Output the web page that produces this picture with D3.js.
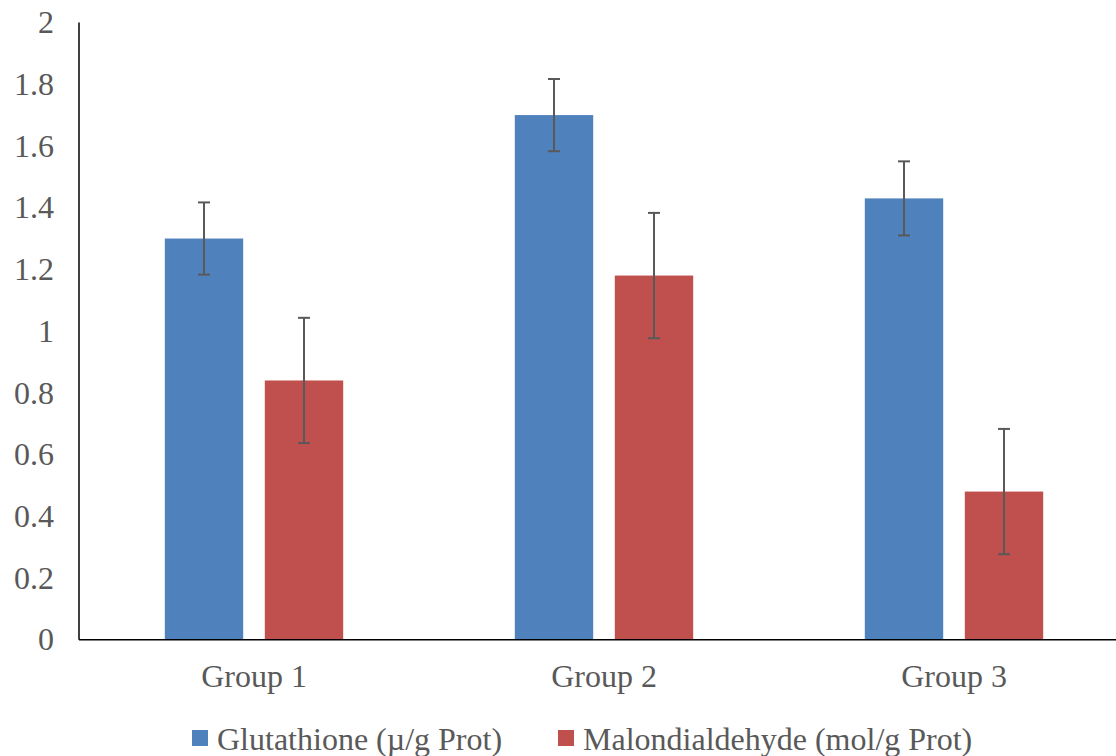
<!DOCTYPE html>
<html>
<head>
<meta charset="utf-8">
<script src="https://cdn.jsdelivr.net/npm/d3@7"></script>
<style>
html,body{margin:0;padding:0;background:#fff;}
svg{display:block;}
text{font-family:"Liberation Serif","Times New Roman",serif;fill:#595959;}
</style>
</head>
<body>
<svg id="chart" width="1116" height="756"></svg>
<script>
const categories = ["Group 1", "Group 2", "Group 3"];
const seriesNames = ["Glutathione (µ/g Prot)", "Malondialdehyde (mol/g Prot)"];
const glutathione = [1.30, 1.70, 1.43];
const glutathioneErr = [0.117, 0.117, 0.12];
const malondialdehyde = [0.84, 1.18, 0.48];
const malondialdehydeErr = [0.203, 0.203, 0.203];
const yTicks = [0, 0.2, 0.4, 0.6, 0.8, 1, 1.2, 1.4, 1.6, 1.8, 2];
const colors = ["#4F81BD", "#C0504D"];

(function () {
const svg = d3.select("#chart");
const mLeft = 79, mRight = 1129, mTop = 22.5, mBottom = 639.7;
const fs = 32;

const x0 = d3.scaleBand().domain(categories).range([mLeft, mRight]).padding(0);
const x1 = d3.scaleBand().domain(seriesNames).range([85.8, 264.2]).paddingInner(0.216).paddingOuter(0);
const y = d3.scaleLinear().domain([0, 2]).range([mBottom, mTop]);

const values = [glutathione, malondialdehyde];
const errs = [glutathioneErr, malondialdehydeErr];
const data = [];
categories.forEach((c, i) => {
  seriesNames.forEach((s, j) => {
    data.push({cat: c, series: s, v: values[j][i], e: errs[j][i], color: colors[j]});
  });
});

// bars
svg.append("g").selectAll("rect").data(data).join("rect")
  .attr("x", d => x0(d.cat) + x1(d.series))
  .attr("y", d => y(d.v))
  .attr("width", x1.bandwidth())
  .attr("height", d => y(0) - y(d.v))
  .attr("fill", d => d.color);

// error bars
const eg = svg.append("g").attr("stroke", "#595959").attr("stroke-width", 2);
data.forEach(d => {
  const cx = x0(d.cat) + x1(d.series) + x1.bandwidth() / 2;
  eg.append("line").attr("x1", cx).attr("x2", cx).attr("y1", y(d.v + d.e)).attr("y2", y(d.v - d.e));
  eg.append("line").attr("x1", cx - 6).attr("x2", cx + 6).attr("y1", y(d.v + d.e)).attr("y2", y(d.v + d.e));
  eg.append("line").attr("x1", cx - 6).attr("x2", cx + 6).attr("y1", y(d.v - d.e)).attr("y2", y(d.v - d.e));
});

// y axis
const yAxis = d3.axisLeft(y).tickValues(yTicks).tickSize(0).tickPadding(25).tickFormat(d => String(d));
const yg = svg.append("g").attr("transform", `translate(${mLeft},0)`).call(yAxis);
yg.select(".domain").remove();
yg.selectAll("text").attr("font-size", fs).attr("fill", "#595959")
  .attr("font-family", "Liberation Serif, Times New Roman, serif");
svg.append("line").attr("x1", mLeft).attr("x2", mLeft).attr("y1", mTop).attr("y2", mBottom)
  .attr("stroke", "#000").attr("stroke-width", 1.5);

// x axis
const xAxis = d3.axisBottom(x0).tickSize(0).tickPadding(25);
const xg = svg.append("g").attr("transform", `translate(0,${mBottom})`).call(xAxis);
xg.select(".domain").remove();
xg.selectAll("text").attr("font-size", fs).attr("fill", "#595959")
  .attr("font-family", "Liberation Serif, Times New Roman, serif");
svg.append("line").attr("x1", mLeft).attr("x2", 1116).attr("y1", mBottom).attr("y2", mBottom)
  .attr("stroke", "#000").attr("stroke-width", 1.5);

// legend
const legendX = [192, 558];
const lg = svg.append("g");
seriesNames.forEach((s, j) => {
  lg.append("rect").attr("x", legendX[j]).attr("y", 730).attr("width", 16).attr("height", 16).attr("fill", colors[j]);
  lg.append("text").attr("x", legendX[j] + 25).attr("y", 750).attr("font-size", fs).text(s);
});
})();
</script>
</body>
</html>
